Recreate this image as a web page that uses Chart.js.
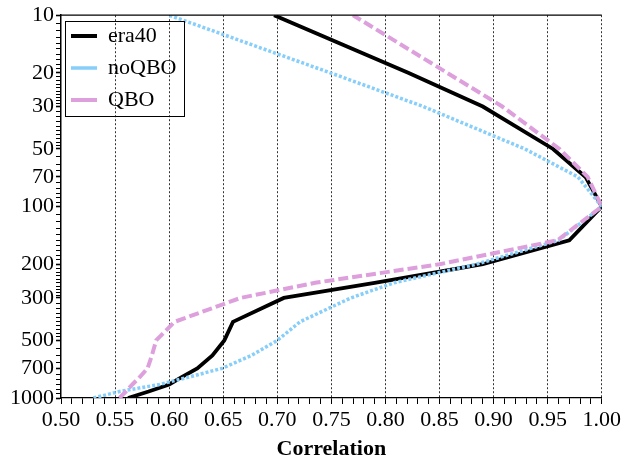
<!DOCTYPE html>
<html>
<head>
<meta charset="utf-8">
<script src="https://cdn.jsdelivr.net/npm/chart.js@4.4.1/dist/chart.umd.min.js"></script>
<style>
  html, body { margin: 0; padding: 0; background: #fff; }
</style>
</head>
<body>
<canvas id="corrChart" width="624" height="463"></canvas>
<script>
// Pressure levels (hPa), from the surface up
const levels = [1000, 925, 850, 775, 700, 600, 500, 400, 300, 250, 200, 150, 100, 70, 50, 30, 20, 10];

// Correlation at each level
const era40 = [0.562, 0.581, 0.600, 0.612, 0.626, 0.640, 0.651, 0.659, 0.706, 0.790, 0.890, 0.970, 1.000, 0.985, 0.955, 0.890, 0.821, 0.697];
const noQBO = [0.530, 0.554, 0.591, 0.619, 0.649, 0.676, 0.700, 0.721, 0.768, 0.808, 0.884, 0.960, 1.000, 0.978, 0.929, 0.835, 0.749, 0.600];
const qbo   = [0.554, 0.560, 0.566, 0.573, 0.580, 0.584, 0.588, 0.605, 0.666, 0.735, 0.850, 0.959, 1.000, 0.987, 0.961, 0.908, 0.857, 0.770];

// Pressure ticks that get a label
const pressureLabels = [10, 20, 30, 50, 70, 100, 200, 300, 500, 700, 1000];

const FONT = "'Liberation Serif', 'Times New Roman', serif";
Chart.defaults.font.family = FONT;
Chart.defaults.font.size = 22;
Chart.defaults.color = '#000';

function toPoints(values) {
    return values.map((v, i) => ({ x: v, y: levels[i] }));
}

function isMajorX(v) {
    return Math.abs(v * 20 - Math.round(v * 20)) < 1e-6;
}

// minor tick positions on the pressure axis: [from, to, step]
function pressureTicks() {
    const runs = [[10, 30, 1], [30, 50, 2], [50, 100, 5], [100, 300, 10], [300, 500, 20], [500, 1000, 50]];
    const out = [];
    runs.forEach(([a, b, s]) => {
        for (let p = a; p < b; p += s) out.push({ value: p });
    });
    out.push({ value: 1000 });
    return out;
}

// Top border of the plot and a frame round the legend
const framePlugin = {
    id: 'framePlugin',
    afterDraw(chart) {
        const { ctx, chartArea } = chart;
        ctx.save();
        ctx.strokeStyle = '#000';
        ctx.lineWidth = 1.2;
        ctx.beginPath();
        ctx.moveTo(chartArea.left, chartArea.top);
        ctx.lineTo(chartArea.right, chartArea.top);
        ctx.stroke();

        const boxes = chart.legend && chart.legend.legendHitBoxes;
        if (boxes && boxes.length) {
            const last = boxes[boxes.length - 1];
            const x0 = boxes[0].left - 6;
            const y0 = boxes[0].top - 4;
            const x1 = Math.max(...boxes.map(b => b.left + b.width)) + 8;
            const y1 = last.top + last.height + 5;
            ctx.lineWidth = 1;
            ctx.strokeRect(Math.round(x0) + 0.5, Math.round(y0) + 0.5, Math.round(x1 - x0), Math.round(y1 - y0));
        }
        ctx.restore();
    }
};

const ctx = document.getElementById('corrChart').getContext('2d');
new Chart(ctx, {
    type: 'line',
    data: {
        datasets: [
            {
                label: 'era40',
                data: toPoints(era40),
                borderColor: '#000000',
                borderWidth: 3.8,
                order: 3
            },
            {
                label: 'noQBO',
                data: toPoints(noQBO),
                borderColor: '#87cefa',
                borderWidth: 3.5,
                borderDash: [3, 2],
                order: 2
            },
            {
                label: 'QBO',
                data: toPoints(qbo),
                borderColor: '#dda0dd',
                borderWidth: 4,
                borderDash: [10, 4],
                order: 1
            }
        ]
    },
    options: {
        responsive: false,
        animation: false,
        layout: { padding: { top: 14, right: 19, left: 0, bottom: 0 } },
        elements: {
            point: { radius: 0 },
            line: { tension: 0, fill: false, borderCapStyle: 'butt' }
        },
        plugins: {
            tooltip: { enabled: false },
            legend: {
                position: 'chartArea',
                align: 'start',
                title: {
                    display: true,
                    text: '',
                    font: { size: 1, lineHeight: 1 },
                    padding: { top: 14, bottom: 0 }
                },
                labels: {
                    usePointStyle: true,
                    pointStyle: 'line',
                    pointStyleWidth: 26,
                    padding: 10,
                    color: '#000',
                    font: { family: FONT, size: 22, lineHeight: 1.0 },
                    sort: (a, b) => a.datasetIndex - b.datasetIndex
                }
            }
        },
        scales: {
            x: {
                type: 'linear',
                min: 0.5,
                max: 1.0,
                afterBuildTicks: (scale) => {
                    const ticks = [];
                    for (let i = 50; i <= 100; i++) ticks.push({ value: i / 100 });
                    scale.ticks = ticks;
                },
                afterFit: (scale) => { scale.height = 65; },
                ticks: {
                    autoSkip: false,
                    maxRotation: 0,
                    padding: 3,
                    callback: (v) => isMajorX(v) ? v.toFixed(2) : ''
                },
                grid: {
                    drawOnChartArea: true,
                    color: (c) => (c.tick && isMajorX(c.tick.value) && c.tick.value > 0.5) ? '#333' : 'transparent',
                    lineWidth: 1,
                    tickColor: '#000',
                    tickLength: 6,
                    tickWidth: 1
                },
                border: { display: true, color: '#000', width: 1.3, dash: [2, 2] },
                title: {
                    display: true,
                    text: 'Correlation',
                    font: { family: FONT, size: 22, weight: 'bold', lineHeight: 1.2 },
                    padding: { top: 0, bottom: 0 }
                }
            },
            y: {
                type: 'logarithmic',
                reverse: true,
                min: 10,
                max: 1000,
                afterBuildTicks: (scale) => { scale.ticks = pressureTicks(); },
                afterFit: (scale) => { scale.width = 61; },
                ticks: {
                    autoSkip: false,
                    padding: 2,
                    callback: (v) => pressureLabels.includes(v) ? String(v) : ''
                },
                grid: {
                    drawOnChartArea: false,
                    tickColor: '#000',
                    tickLength: 5,
                    tickWidth: (c) => (c.tick && pressureLabels.includes(c.tick.value)) ? 1.6 : 1
                },
                border: { display: true, color: '#000', width: 1.5 }
            }
        }
    },
    plugins: [framePlugin]
});
</script>
</body>
</html>
